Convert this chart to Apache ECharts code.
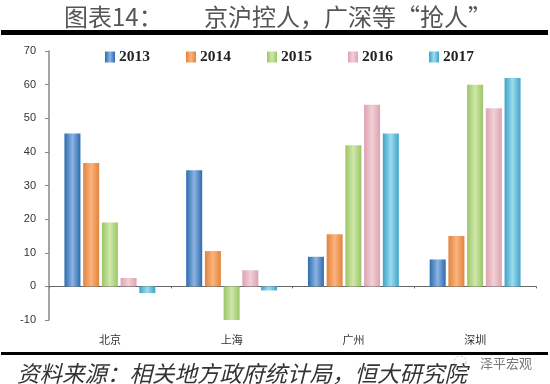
<!DOCTYPE html>
<html>
<head>
<meta charset="utf-8">
<style>
  html,body{margin:0;padding:0;background:#fff;}
  #chart{width:550px;height:384px;}
</style>
</head>
<body>
<div id="chart"></div>
<script src="https://cdn.jsdelivr.net/npm/echarts@6/dist/echarts.min.js"></script>
<script>
const cities = ['北京', '上海', '广州', '深圳'];
const years = ['2013', '2014', '2015', '2016', '2017'];
const v2013 = [45.5, 34.5, 8.8, 8];
const v2014 = [36.7, 10.5, 15.5, 15];
const v2015 = [19, -10, 42, 60];
const v2016 = [2.5, 4.8, 54, 53];
const v2017 = [-2, -1.2, 45.5, 62];

const values = [v2013, v2014, v2015, v2016, v2017];
// edge / middle colour of each year's bars
const edge = ['#2c6cb0', '#e0853f', '#9cc468', '#dba3b0', '#3fa3c8'];
const mid = ['#8db3e2', '#fdb27c', '#cfe8a8', '#f3cfd6', '#9adcf0'];

function barColor(i) {
  return new echarts.graphic.LinearGradient(0, 0, 1, 0, [
    {offset: 0, color: edge[i]},
    {offset: 0.5, color: mid[i]},
    {offset: 1, color: edge[i]}
  ]);
}

const chart = echarts.init(document.getElementById('chart'), null, {renderer: 'canvas'});
const cjk = '"Noto Sans CJK SC", sans-serif';

chart.setOption({
  animation: false,
  backgroundColor: '#fff',
  grid: {left: 49, right: 14, top: 51, bottom: 64},
  legend: {
    top: 44,
    left: 100,
    itemWidth: 10,
    itemHeight: 11,
    itemGap: 36,
    icon: 'rect',
    data: years,
    textStyle: {
      fontFamily: '"Liberation Serif", serif',
      fontWeight: 'bold',
      fontSize: 15.5,
      color: '#222',
      padding: [0, 0, 0, -1]
    }
  },
  xAxis: {
    type: 'category',
    data: cities,
    axisLine: {onZero: true, lineStyle: {color: '#666', width: 1}},
    axisTick: {show: true, length: 2, lineStyle: {color: '#666'}},
    axisLabel: {margin: 14, fontFamily: cjk, fontSize: 11, color: '#333'}
  },
  yAxis: {
    type: 'value',
    min: -10,
    max: 70,
    interval: 10,
    axisLine: {show: true, lineStyle: {color: '#888', width: 1.5}},
    axisTick: {show: true, length: 4, lineStyle: {color: '#888'}},
    splitLine: {show: false},
    axisLabel: {
      margin: 13,
      fontFamily: '"Liberation Sans", sans-serif',
      fontSize: 11,
      color: '#333'
    }
  },
  series: years.map(function (y, i) {
    return {
      name: y,
      type: 'bar',
      data: values[i],
      barWidth: 16,
      barGap: '17%',
      itemStyle: {color: barColor(i)}
    };
  }),
  graphic: [
    {type: 'rect', shape: {x: 1, y: 30, width: 547, height: 5}, style: {fill: '#000'}},
    {type: 'rect', shape: {x: 1, y: 352, width: 547, height: 3}, style: {fill: '#000'}},
    {type: 'text', x: 64, y: 17, style: {text: '图表14：', font: '24px ' + cjk, fill: '#555', verticalAlign: 'middle'}},
    {type: 'text', x: 204, y: 17, style: {text: '京沪控人，广深等“抢人”', font: '24px ' + cjk, fill: '#555', verticalAlign: 'middle'}},
    {type: 'text', x: 17, y: 373, style: {text: '资料来源：相关地方政府统计局，恒大研究院', font: 'italic 22.5px ' + cjk, fill: '#333', verticalAlign: 'middle'}},
    {type: 'circle', shape: {cx: 460, cy: 362, r: 6}, style: {fill: 'none', stroke: '#bbb', lineWidth: 1, lineDash: [2, 2]}},
    {type: 'text', x: 480, y: 363, style: {text: '泽平宏观', font: '13px ' + cjk, fill: '#777', verticalAlign: 'middle'}}
  ]
});
</script>
</body>
</html>
